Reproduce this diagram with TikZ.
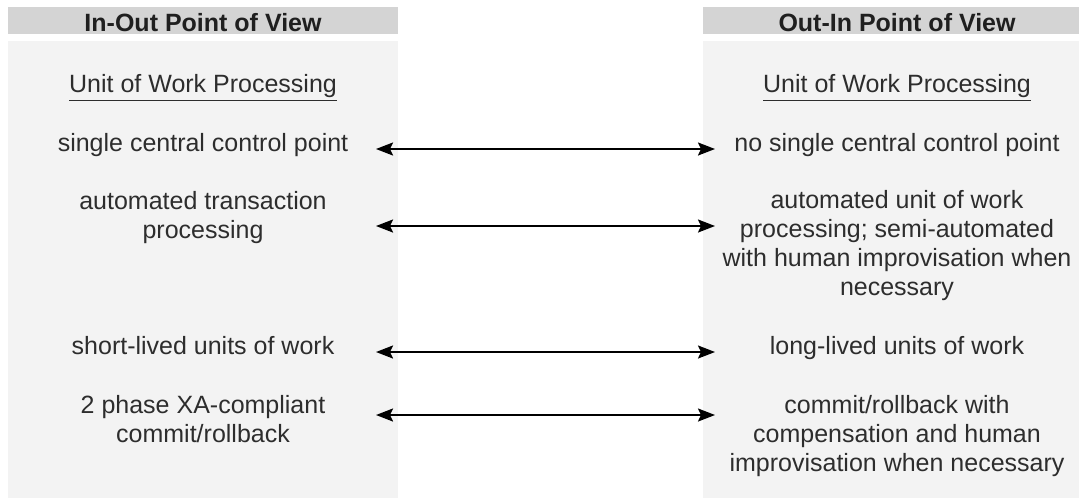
\documentclass[tikz,border=0pt]{standalone}
\usepackage{fontspec}
\setmainfont{Liberation Sans}
\definecolor{hdrgray}{RGB}{212,212,212}
\definecolor{panegray}{RGB}{243,243,243}
\definecolor{txtgray}{RGB}{45,45,45}
\usetikzlibrary{arrows.meta}
\tikzset{
  hdr/.style={fill=hdrgray,draw=none},
  pane/.style={fill=panegray,draw=none},
  title/.style={font=\fontsize{12.5}{14.5}\selectfont\bfseries,text=black!88,
    anchor=base,inner sep=0pt},
  itm/.style={font=\fontsize{12.5}{14.5}\selectfont,text=txtgray,
    align=center,anchor=base,inner sep=0pt},
  arr/.style={{Stealth[length=8.5pt,width=6.5pt,inset=1.5pt]}-{Stealth[length=8.5pt,width=6.5pt,inset=1.5pt]},
    line width=1pt,draw=black},
}

\begin{document}
\begin{tikzpicture}[x=0.5pt,y=-0.5pt]
  \useasboundingbox (0,0) rectangle (1079,499);

  % the two panes
  \fill[hdr]  (8,7) rectangle (398,34);
  \fill[pane] (8,41) rectangle (398,498);
  \fill[hdr]  (703,7) rectangle (1079,34);
  \fill[pane] (703,41) rectangle (1079,498);

  \node[title] (inhdr)  at (203,31) {In-Out Point of View};
  \node[title] (outhdr) at (897,31) {Out-In Point of View};

  % placed by the baseline of the last line
  \node[itm] (inuow)  at (203,92) {\underline{Unit of Work Processing}};
  \node[itm] (outuow) at (897,92) {\underline{Unit of Work Processing}};

  \node[itm] (in1)  at (203,151) {single central control point};
  \node[itm] (out1) at (897,151) {no single central control point};

  \node[itm] (in2)  at (203,238) {automated transaction\\processing};
  \node[itm] (out2) at (897,295)
    {automated unit of work\\processing; semi-automated\\with human improvisation when\\necessary};

  \node[itm] (in3)  at (203,354) {short-lived units of work};
  \node[itm] (out3) at (897,354) {long-lived units of work};

  \node[itm] (in4)  at (203,442) {2 phase XA-compliant\\commit/rollback};
  \node[itm] (out4) at (897,471)
    {commit/rollback with\\compensation and human\\improvisation when necessary};

  % arrow ends
  \coordinate (inend1)  at (376,149);
  \coordinate (outend1) at (715,149);
  \coordinate (inend2)  at (376,226);
  \coordinate (outend2) at (715,226);
  \coordinate (inend3)  at (376,352);
  \coordinate (outend3) at (715,352);
  \coordinate (inend4)  at (376,415);
  \coordinate (outend4) at (715,415);

  \draw[arr] (inend1) -- (outend1);
  \draw[arr] (inend2) -- (outend2);
  \draw[arr] (inend3) -- (outend3);
  \draw[arr] (inend4) -- (outend4);
\end{tikzpicture}
\end{document}
